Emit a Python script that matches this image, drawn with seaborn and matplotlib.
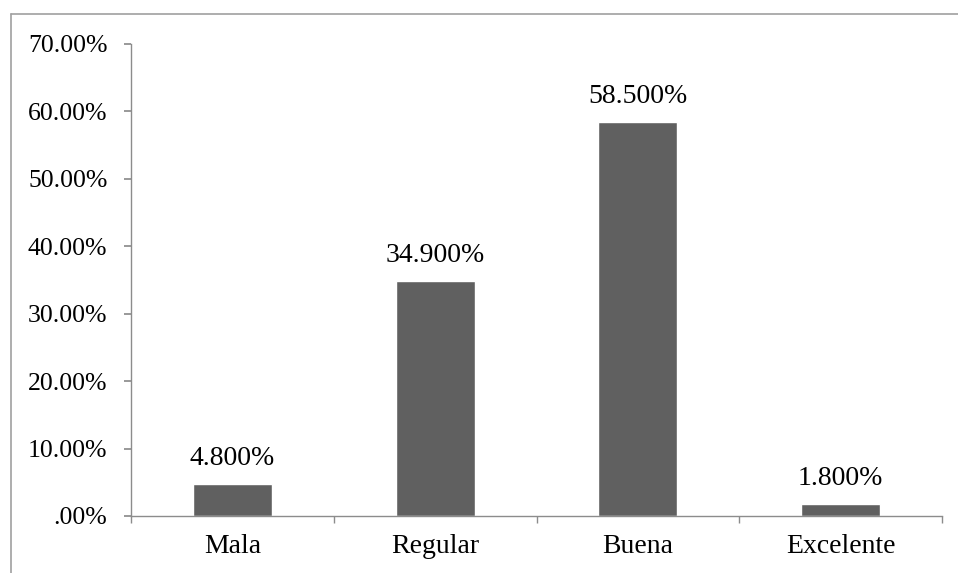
import matplotlib
matplotlib.use("Agg")
import matplotlib.pyplot as plt
from matplotlib.lines import Line2D
import seaborn as sns
import pandas as pd

# data
categories = ["Mala", "Regular", "Buena", "Excelente"]
values = [4.8, 34.9, 58.5, 1.8]
y_ticks = [0, 10, 20, 30, 40, 50, 60, 70]
y_tick_labels = [".00%", "10.00%", "20.00%", "30.00%", "40.00%", "50.00%", "60.00%", "70.00%"]

sns.set_theme(style="white")
plt.rcParams["font.family"] = ["Liberation Serif", "DejaVu Serif"]

df = pd.DataFrame({"cat": categories, "val": values})

W, H = 958, 573
fig = plt.figure(figsize=(W / 100, H / 100), dpi=100)
ax = fig.add_axes([131 / W, (H - 516) / H, (942 - 131) / W, (516 - 44) / H])

sns.barplot(data=df, x="cat", y="val", color="#606060", width=0.39,
            saturation=1, ax=ax)

ax.set_ylim(0, 70)
ax.set_xlim(-0.5, len(categories) - 0.5)
ax.set_yticks(y_ticks)
ax.set_yticklabels(y_tick_labels)
ax.set_xlabel("")
ax.set_ylabel("")

grey = "#8c8c8c"
for s in ["top", "right"]:
    ax.spines[s].set_visible(False)
for s in ["left", "bottom"]:
    ax.spines[s].set_color(grey)
    ax.spines[s].set_linewidth(1.0)

# x ticks at category boundaries
ax.set_xticks([i - 0.5 for i in range(len(categories) + 1)], minor=True)
ax.tick_params(axis="x", which="minor", direction="out", length=5,
               color=grey, bottom=True)
ax.tick_params(axis="x", which="major", length=0, pad=13, labelsize=20,
               labelcolor="black")
ax.tick_params(axis="y", direction="out", length=5, color=grey, left=True,
               pad=12, labelsize=18.5, labelcolor="black")

labels = [f"{v:.3f}%" for v in values]
ax.bar_label(ax.containers[0], labels=labels, padding=9, fontsize=20,
             color="black")

# outer chart border (cut off at the right and bottom)
fig.add_artist(Line2D([11 / W, 1.01], [1 - 14 / H, 1 - 14 / H],
                      transform=fig.transFigure, color="#a0a0a0", lw=1.2))
fig.add_artist(Line2D([11 / W, 11 / W], [1 - 14 / H, -0.01],
                      transform=fig.transFigure, color="#a0a0a0", lw=1.2))

fig.savefig("out.png", dpi=100)
